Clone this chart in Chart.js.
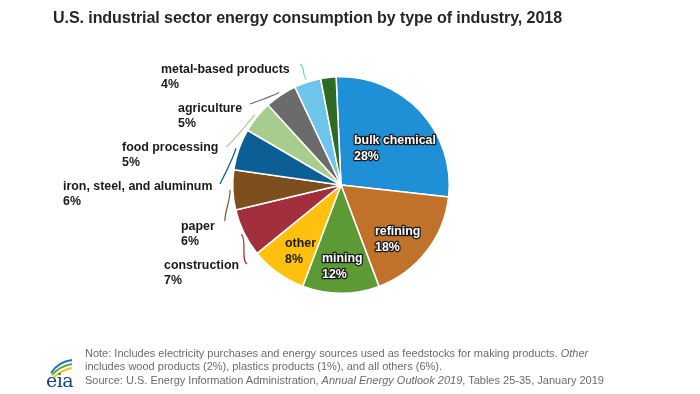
<!DOCTYPE html>
<html>
<head>
<meta charset="utf-8">
<script src="https://cdn.jsdelivr.net/npm/chart.js@4.4.1/dist/chart.umd.min.js"></script>
<style>
  html, body { margin: 0; padding: 0; background: #ffffff; }
  #wrap { position: relative; width: 700px; height: 394px; overflow: hidden; font-family: "Liberation Sans", Arial, sans-serif; }
  #c { position: absolute; left: 0; top: 0; }
  #title { position: absolute; left: 53px; top: 8px; font-size: 16.1px; font-weight: bold; color: #262626; white-space: nowrap; letter-spacing: -0.1px; }
  #note { position: absolute; left: 85px; top: 347px; font-size: 11px; line-height: 13.4px; color: #6b6b6b; white-space: nowrap; }
  #logo { position: absolute; left: 44px; top: 354px; width: 32px; height: 30px; }
  #logoText { position: absolute; left: 46px; top: 369px; font-family: "DejaVu Serif", "Liberation Serif", serif; font-size: 19px; color: #14467a; letter-spacing: -0.5px; }
</style>
</head>
<body>
<div id="wrap">
  <canvas id="c" width="700" height="394"></canvas>
  <div id="title">U.S. industrial sector energy consumption by type of industry, 2018</div>
  <svg id="logo" viewBox="0 0 32 30">
    <path d="M7 19 Q14 8 28 6" stroke="#1b75bb" stroke-width="2" fill="none"/>
    <path d="M8 21 Q16 12 28 10" stroke="#59a947" stroke-width="2" fill="none"/>
    <path d="M10 23 Q18 16 28 14" stroke="#f4c21b" stroke-width="2" fill="none"/>
  </svg>
  <div id="logoText">eia</div>
  <div id="note">Note: Includes electricity purchases and energy sources used as feedstocks for making products. <i>Other</i><br>includes wood products (2%), plastics products (1%), and all others (6%).<br>Source: U.S. Energy Information Administration, <i>Annual Energy Outlook 2019</i>, Tables 25-35, January 2019</div>
</div>
<script>
// ---- data ----
const categories = ["bulk chemical", "refining", "mining", "other", "construction", "paper",
  "iron, steel, and aluminum", "food processing", "agriculture", "metal-based products", "(unlabeled)"];
const shares = [27.6, 17.6, 11.5, 8.4, 7.2, 6.0, 6.2, 4.8, 4.8, 4.0, 2.3];
const percentLabels = ["28%", "18%", "12%", "8%", "7%", "6%", "6%", "5%", "5%", "4%", ""];

// ---- styles ----
const sliceColors = ["#1f8fd6", "#c0722b", "#5c9a35", "#ffc10e", "#a32f3e", "#7d4f1f",
  "#0b5f95", "#a8cc8e", "#6b6b6b", "#6fc4ea", "#2e6a24"];

// label layout: inside labels (white w/ outline, or plain) and outside labels with leader line start
const labelLayout = {
  0: { type: "inside", x: 354, y: 144, outline: true },
  1: { type: "inside", x: 375, y: 235, outline: true },
  2: { type: "inside", x: 322, y: 262, outline: true },
  3: { type: "inside", x: 285, y: 247, outline: false },
  4: { type: "outside", x: 164, y: 269, lx: 247, ly: 264 },
  5: { type: "outside", x: 181, y: 230, lx: 225, ly: 221 },
  6: { type: "outside", x: 63,  y: 190, lx: 220, ly: 184 },
  7: { type: "outside", x: 122, y: 151, lx: 226, ly: 147 },
  8: { type: "outside", x: 178, y: 112, lx: 250, ly: 104 },
  9: { type: "outside", x: 161, y: 73,  lx: 300, ly: 64 }
};

const labelPlugin = {
  id: "sliceLabels",
  afterDatasetsDraw(chart) {
    const ctx = chart.ctx;
    const meta = chart.getDatasetMeta(0);
    ctx.save();
    ctx.font = "bold 12.4px 'Liberation Sans', Arial, sans-serif";
    ctx.textBaseline = "alphabetic";
    ctx.textAlign = "left";
    meta.data.forEach((arc, i) => {
      const lay = labelLayout[i];
      if (!lay) return;
      const lines = [categories[i], percentLabels[i]];
      if (lay.type === "inside") {
        lines.forEach((t, k) => {
          const y = lay.y + k * 16;
          if (lay.outline) {
            ctx.lineWidth = 2.6;
            ctx.lineJoin = "round";
            ctx.strokeStyle = "#1a1a1a";
            ctx.strokeText(t, lay.x, y);
            ctx.fillStyle = "#ffffff";
            ctx.fillText(t, lay.x, y);
          } else {
            ctx.fillStyle = "#1a1a1a";
            ctx.fillText(t, lay.x, y);
          }
        });
      } else {
        lines.forEach((t, k) => {
          ctx.fillStyle = "#1a1a1a";
          ctx.fillText(t, lay.x, lay.y + k * 15);
        });
        // leader line to the slice middle
        const p = arc.getProps(["x", "y", "startAngle", "endAngle", "outerRadius"], true);
        const mid = (p.startAngle + p.endAngle) / 2;
        const r = p.outerRadius + 3;
        const ex = p.x + Math.cos(mid) * r;
        const ey = p.y + Math.sin(mid) * r;
        const sx = lay.lx, sy = lay.ly;
        const dx = ex - sx, dy = ey - sy;
        ctx.beginPath();
        ctx.moveTo(sx, sy);
        ctx.bezierCurveTo(sx + dx * 0.5 + dy * 0.12, sy + dy * 0.15 - dx * 0.12,
                          sx + dx * 0.6 - dy * 0.12, sy + dy * 0.85 + dx * 0.12,
                          ex, ey);
        ctx.lineWidth = 1.2;
        ctx.strokeStyle = sliceColors[i];
        ctx.stroke();
      }
    });
    ctx.restore();
  }
};

new Chart(document.getElementById("c"), {
  type: "pie",
  data: {
    labels: categories,
    datasets: [{
      data: shares,
      backgroundColor: sliceColors,
      borderColor: "#ffffff",
      borderWidth: 1.5
    }]
  },
  options: {
    responsive: false,
    animation: false,
    rotation: -2.6,
    layout: { padding: { left: 232, right: 250, top: 76, bottom: 100 } },
    plugins: {
      legend: { display: false },
      tooltip: { enabled: false },
      title: { display: false }
    }
  },
  plugins: [labelPlugin]
});
</script>
</body>
</html>
